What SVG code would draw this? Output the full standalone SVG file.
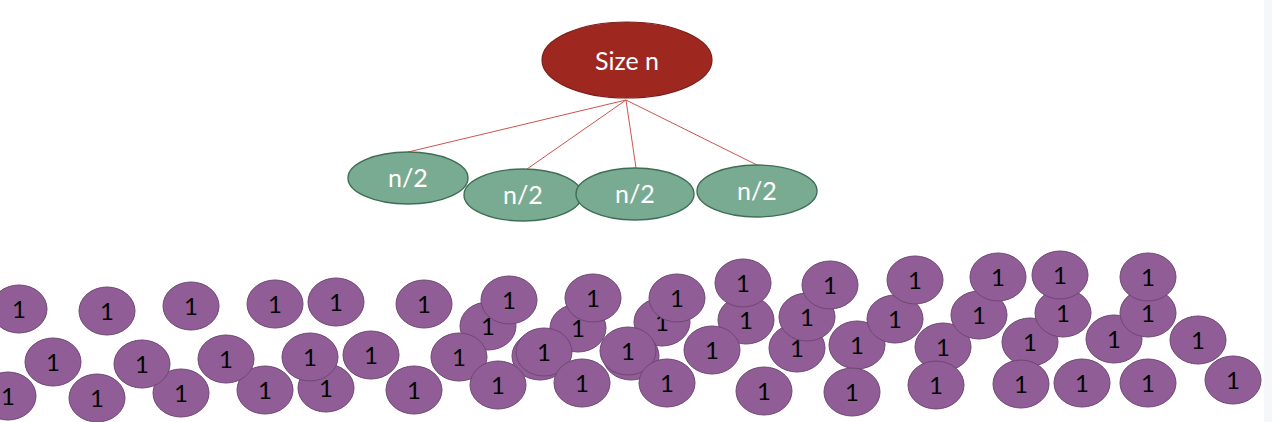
<svg xmlns="http://www.w3.org/2000/svg" width="1272" height="422" viewBox="0 0 1272 422">
<style>
.bg{fill:#ffffff}
.strip{fill:#f6f7f8}
.root{fill:#9e2720;stroke:#7c1d18;stroke-width:1.2}
.half{fill:#79ab92;stroke:#3f6e57;stroke-width:1.4}
.one{fill:#905d96;stroke:#6f4674;stroke-width:1}
.edge{stroke:#c9554f;stroke-width:1;fill:none}
.lbl{font-family:Lato,"Open Sans","Liberation Sans",sans-serif;fill:#ffffff;font-size:25px;text-anchor:middle}
.num{font-family:Lato,"Open Sans","Liberation Sans",sans-serif;fill:#000000;font-size:24px;text-anchor:middle}
</style>
<defs>
<ellipse id="u" rx="28" ry="24" class="one"/>
</defs>
<rect class="bg" x="0" y="0" width="1272" height="422"/>
<rect class="strip" x="1264" y="0" width="8" height="422"/>

<g id="connectors">
<line class="edge" x1="626" y1="100" x2="408" y2="152"/>
<line class="edge" x1="626" y1="100" x2="527" y2="169"/>
<line class="edge" x1="626" y1="100" x2="636" y2="168"/>
<line class="edge" x1="626" y1="100" x2="757" y2="165"/>
</g>

<g id="root"><ellipse class="root" cx="627" cy="60" rx="85" ry="38"/><text class="lbl" x="627" y="70">Size n</text></g>
<g id="half1"><ellipse class="half" cx="408" cy="178" rx="60" ry="26"/><text class="lbl" x="408" y="187">n/2</text></g>
<g id="half2"><ellipse class="half" cx="523" cy="195" rx="59" ry="26"/><text class="lbl" x="523" y="204">n/2</text></g>
<g id="half3"><ellipse class="half" cx="635" cy="194" rx="59" ry="26"/><text class="lbl" x="635" y="203">n/2</text></g>
<g id="half4"><ellipse class="half" cx="757" cy="191" rx="60" ry="26"/><text class="lbl" x="757" y="200">n/2</text></g>

<g id="u01"><use href="#u" x="8" y="396"/><text class="num" x="8" y="405">1</text></g>
<g id="u02"><use href="#u" x="97" y="398"/><text class="num" x="97" y="407">1</text></g>
<g id="u03"><use href="#u" x="181" y="393"/><text class="num" x="181" y="402">1</text></g>
<g id="u04"><use href="#u" x="265" y="390"/><text class="num" x="265" y="399">1</text></g>
<g id="u05"><use href="#u" x="326" y="388"/><text class="num" x="326" y="397">1</text></g>
<g id="u06"><use href="#u" x="414" y="390"/><text class="num" x="414" y="399">1</text></g>
<g id="u07"><use href="#u" x="53" y="362"/><text class="num" x="53" y="371">1</text></g>
<g id="u08"><use href="#u" x="142" y="364"/><text class="num" x="142" y="373">1</text></g>
<g id="u09"><use href="#u" x="226" y="359"/><text class="num" x="226" y="368">1</text></g>
<g id="u10"><use href="#u" x="310" y="357"/><text class="num" x="310" y="366">1</text></g>
<g id="u11"><use href="#u" x="371" y="355"/><text class="num" x="371" y="364">1</text></g>
<g id="u12"><use href="#u" x="19" y="309"/><text class="num" x="19" y="318">1</text></g>
<g id="u13"><use href="#u" x="107" y="311"/><text class="num" x="107" y="320">1</text></g>
<g id="u14"><use href="#u" x="191" y="306"/><text class="num" x="191" y="315">1</text></g>
<g id="u15"><use href="#u" x="275" y="304"/><text class="num" x="275" y="313">1</text></g>
<g id="u16"><use href="#u" x="336" y="302"/><text class="num" x="336" y="311">1</text></g>
<g id="u17"><use href="#u" x="424" y="304"/><text class="num" x="424" y="313">1</text></g>

<g id="u18"><use href="#u" x="488" y="326"/><text class="num" x="488" y="335">1</text></g>
<g id="u19"><use href="#u" x="578" y="328"/><text class="num" x="578" y="337">1</text></g>
<g id="u20"><use href="#u" x="662" y="322"/><text class="num" x="662" y="331">1</text></g>
<g id="u21"><use href="#u" x="459" y="357"/><text class="num" x="459" y="366">1</text></g>
<g id="u22"><use href="#u" x="540" y="356"/></g>
<g id="u23"><use href="#u" x="544" y="352"/><text class="num" x="544" y="361">1</text></g>
<g id="u24"><use href="#u" x="631" y="356"/></g>
<g id="u25"><use href="#u" x="628" y="351"/><text class="num" x="628" y="360">1</text></g>
<g id="u26"><use href="#u" x="498" y="385"/><text class="num" x="498" y="394">1</text></g>
<g id="u27"><use href="#u" x="582" y="383"/><text class="num" x="582" y="392">1</text></g>
<g id="u28"><use href="#u" x="667" y="383"/><text class="num" x="667" y="392">1</text></g>
<g id="u29"><use href="#u" x="509" y="300"/><text class="num" x="509" y="309">1</text></g>
<g id="u30"><use href="#u" x="593" y="298"/><text class="num" x="593" y="307">1</text></g>
<g id="u31"><use href="#u" x="677" y="298"/><text class="num" x="677" y="307">1</text></g>
<g id="u32"><use href="#u" x="746" y="320"/><text class="num" x="746" y="329">1</text></g>
<g id="u33"><use href="#u" x="743" y="283"/><text class="num" x="743" y="292">1</text></g>
<g id="u34"><use href="#u" x="712" y="350"/><text class="num" x="712" y="359">1</text></g>
<g id="u35"><use href="#u" x="764" y="391"/><text class="num" x="764" y="400">1</text></g>

<g id="u36"><use href="#u" x="797" y="348"/><text class="num" x="797" y="357">1</text></g>
<g id="u37"><use href="#u" x="857" y="345"/><text class="num" x="857" y="354">1</text></g>
<g id="u38"><use href="#u" x="943" y="347"/><text class="num" x="943" y="356">1</text></g>
<g id="u39"><use href="#u" x="1030" y="342"/><text class="num" x="1030" y="351">1</text></g>
<g id="u40"><use href="#u" x="1114" y="339"/><text class="num" x="1114" y="348">1</text></g>
<g id="u41"><use href="#u" x="1198" y="340"/><text class="num" x="1198" y="349">1</text></g>
<g id="u42"><use href="#u" x="852" y="392"/><text class="num" x="852" y="401">1</text></g>
<g id="u43"><use href="#u" x="936" y="385"/><text class="num" x="936" y="394">1</text></g>
<g id="u44"><use href="#u" x="1021" y="384"/><text class="num" x="1021" y="393">1</text></g>
<g id="u45"><use href="#u" x="1082" y="383"/><text class="num" x="1082" y="392">1</text></g>
<g id="u46"><use href="#u" x="1148" y="383"/><text class="num" x="1148" y="392">1</text></g>
<g id="u47"><use href="#u" x="1233" y="380"/><text class="num" x="1233" y="389">1</text></g>
<g id="u48"><use href="#u" x="807" y="317"/><text class="num" x="807" y="326">1</text></g>
<g id="u49"><use href="#u" x="895" y="319"/><text class="num" x="895" y="328">1</text></g>
<g id="u50"><use href="#u" x="979" y="315"/><text class="num" x="979" y="324">1</text></g>
<g id="u51"><use href="#u" x="1063" y="313"/><text class="num" x="1063" y="322">1</text></g>
<g id="u52"><use href="#u" x="1148" y="313"/><text class="num" x="1148" y="322">1</text></g>
<g id="u53"><use href="#u" x="830" y="285"/><text class="num" x="830" y="294">1</text></g>
<g id="u54"><use href="#u" x="915" y="280"/><text class="num" x="915" y="289">1</text></g>
<g id="u55"><use href="#u" x="998" y="277"/><text class="num" x="998" y="286">1</text></g>
<g id="u56"><use href="#u" x="1060" y="275"/><text class="num" x="1060" y="284">1</text></g>
<g id="u57"><use href="#u" x="1148" y="277"/><text class="num" x="1148" y="286">1</text></g>
</svg>
